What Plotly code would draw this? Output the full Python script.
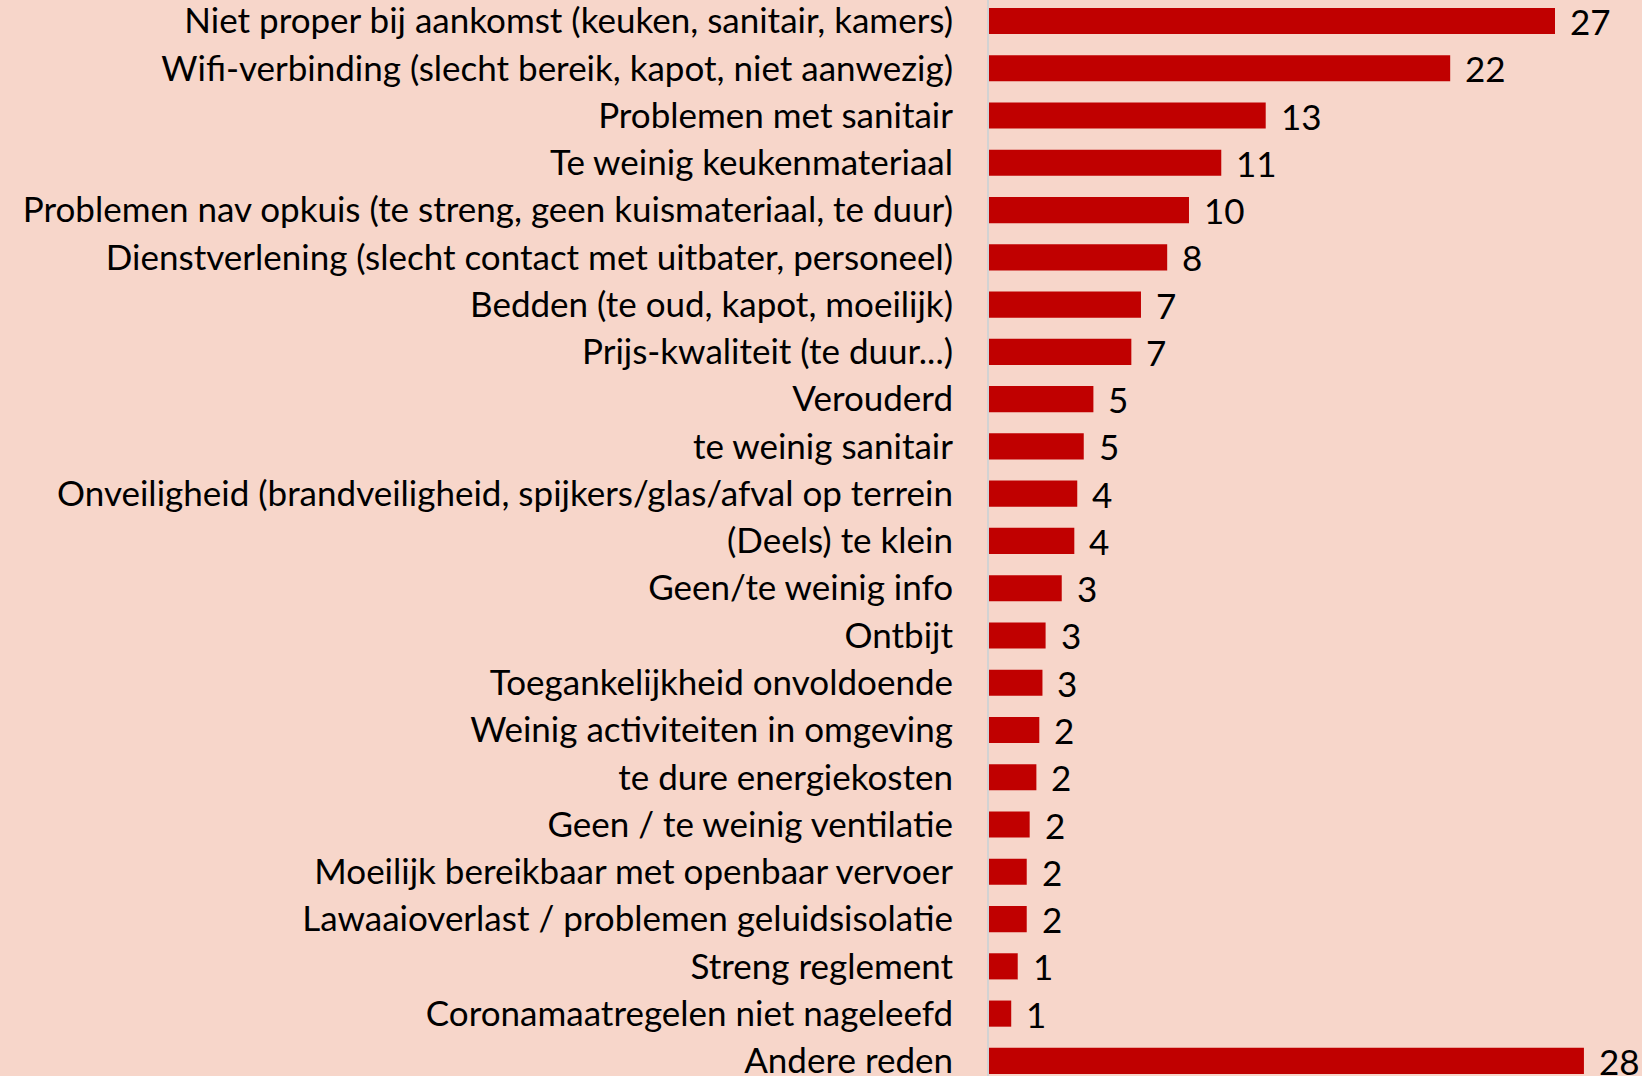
import plotly.graph_objects as go

categories = [
    "Niet proper bij aankomst (keuken, sanitair, kamers)",
    "Wifi-verbinding (slecht bereik, kapot, niet aanwezig)",
    "Problemen met sanitair",
    "Te weinig keukenmateriaal",
    "Problemen nav opkuis (te streng, geen kuismateriaal, te duur)",
    "Dienstverlening (slecht contact met uitbater, personeel)",
    "Bedden (te oud, kapot, moeilijk)",
    "Prijs-kwaliteit (te duur...)",
    "Verouderd",
    "te weinig sanitair",
    "Onveiligheid (brandveiligheid, spijkers/glas/afval op terrein",
    "(Deels) te klein",
    "Geen/te weinig info",
    "Ontbijt",
    "Toegankelijkheid onvoldoende",
    "Weinig activiteiten in omgeving",
    "te dure energiekosten",
    "Geen / te weinig ventilatie",
    "Moeilijk bereikbaar met openbaar vervoer",
    "Lawaaioverlast / problemen geluidsisolatie",
    "Streng reglement",
    "Coronamaatregelen niet nageleefd",
    "Andere reden",
]
values = [27.0, 22.0, 13.2, 11.08, 9.54, 8.5, 7.25, 6.79, 4.98, 4.52, 4.21, 4.07,
          3.47, 2.70, 2.55, 2.40, 2.26, 1.94, 1.80, 1.80, 1.37, 1.06, 28.38]
value_labels = ["27", "22", "13", "11", "10", "8", "7", "7", "5", "5", "4", "4",
                "3", "3", "3", "2", "2", "2", "2", "2", "1", "1", "28"]

BG = "#F7D6CA"
BAR = "#C00000"
FONT = "Lato"
FS = 35

fig = go.Figure()
fig.add_trace(go.Bar(
    x=values, y=categories, orientation="h",
    marker=dict(color=BAR, line=dict(width=0)),
    hoverinfo="skip",
))

for v, c, t in zip(values, categories, value_labels):
    fig.add_annotation(x=v, y=c, text=t, showarrow=False, xanchor="left",
                       xshift=13, yshift=0,
                       font=dict(family=FONT, size=FS, color="#000000"))

fig.update_layout(
    width=1642, height=1076,
    paper_bgcolor=BG, plot_bgcolor=BG,
    margin=dict(l=989, r=0, t=0, b=0, autoexpand=False),
    bargap=0.447,
    showlegend=False,
    font=dict(family=FONT, size=FS, color="#000000"),
)
fig.update_xaxes(range=[0, 31.15], visible=False, showgrid=False, zeroline=False)
fig.update_yaxes(
    autorange=False, range=[22.32, -0.444], showgrid=False, zeroline=False,
    showline=True, linecolor="#D3D3D3", linewidth=2,
    ticks="", ticklabelstandoff=27, automargin=False,
    tickfont=dict(family=FONT, size=FS, color="#000000"),
)

fig.write_html(
    "out.html",
    config={"displayModeBar": False},
    post_script="document.body.style.margin='0';document.body.style.padding='0';"
                "document.body.style.background='" + BG + "';",
)
